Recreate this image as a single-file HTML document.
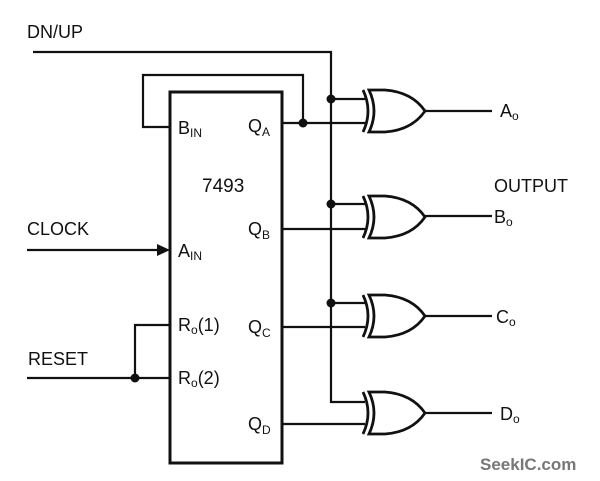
<!DOCTYPE html>
<html><head><meta charset="utf-8"><style>
html,body{margin:0;padding:0;background:#fff}
svg{display:block}
text{font-family:"Liberation Sans",sans-serif;fill:#111}
</style></head><body>
<svg width="600" height="481" viewBox="0 0 600 481" xmlns="http://www.w3.org/2000/svg">
<g stroke="#111" fill="none" stroke-width="2.2">
<rect x="170" y="92" width="112" height="371" stroke-width="3"/>
<polyline points="33,52 331,52 331,402 365,402"/>
<polyline points="170,127 143,127 143,75 303,75 303,123"/>
<line x1="282" y1="123" x2="365" y2="123"/>
<line x1="282" y1="229" x2="365" y2="229"/>
<line x1="282" y1="327" x2="365" y2="327"/>
<line x1="282" y1="424" x2="365" y2="424"/>
<line x1="331" y1="99" x2="365" y2="99"/>
<line x1="331" y1="204" x2="365" y2="204"/>
<line x1="331" y1="303" x2="365" y2="303"/>
<line x1="27" y1="250" x2="162" y2="250"/>
<line x1="27" y1="378" x2="170" y2="378"/>
<polyline points="135,378 135,325 170,325"/>
<line x1="425" y1="111" x2="492" y2="111"/>
<line x1="425" y1="216" x2="492" y2="216"/>
<line x1="425" y1="316" x2="492" y2="316"/>
<line x1="425" y1="413" x2="492" y2="413"/>
</g>
<polygon points="157,244 170,250 157,256" fill="#111"/>
<g stroke="#111" fill="none" stroke-width="2.8">
<g transform="translate(0,90)">
<path d="M363,0 Q373,21 363,42"/>
<path d="M369,0 Q379,21 369,42 L385,42 Q412,40 425,21 Q412,2 385,0 Z"/>
</g>
<g transform="translate(0,196)">
<path d="M363,0 Q373,21 363,42"/>
<path d="M369,0 Q379,21 369,42 L385,42 Q412,40 425,21 Q412,2 385,0 Z"/>
</g>
<g transform="translate(0,295)">
<path d="M363,0 Q373,21 363,42"/>
<path d="M369,0 Q379,21 369,42 L385,42 Q412,40 425,21 Q412,2 385,0 Z"/>
</g>
<g transform="translate(0,392)">
<path d="M363,0 Q373,21 363,42"/>
<path d="M369,0 Q379,21 369,42 L385,42 Q412,40 425,21 Q412,2 385,0 Z"/>
</g>
</g>
<g fill="#111">
<circle cx="331" cy="99" r="4.5"/>
<circle cx="303" cy="123" r="4.5"/>
<circle cx="331" cy="204" r="4.5"/>
<circle cx="331" cy="303" r="4.5"/>
<circle cx="135" cy="378" r="4.5"/>
</g>
<g font-size="18">
<text x="27" y="38">DN/UP</text>
<text x="27" y="235">CLOCK</text>
<text x="28" y="365">RESET</text>
<text x="494" y="192">OUTPUT</text>
<text x="202" y="192" font-size="19">7493</text>
<text x="178" y="134">B<tspan font-size="12" dy="3">IN</tspan></text>
<text x="178" y="257">A<tspan font-size="12" dy="3">IN</tspan></text>
<text x="178" y="331">R<tspan font-size="12" dy="3">o</tspan><tspan dy="-3">(1)</tspan></text>
<text x="178" y="384">R<tspan font-size="12" dy="3">o</tspan><tspan dy="-3">(2)</tspan></text>
<text x="248" y="132">Q<tspan font-size="12" dy="4">A</tspan></text>
<text x="248" y="235">Q<tspan font-size="12" dy="4">B</tspan></text>
<text x="248" y="333">Q<tspan font-size="12" dy="4">C</tspan></text>
<text x="248" y="430">Q<tspan font-size="12" dy="4">D</tspan></text>
<text x="500" y="117">A<tspan font-size="12" dy="3">o</tspan></text>
<text x="494" y="223">B<tspan font-size="12" dy="3">o</tspan></text>
<text x="496" y="323">C<tspan font-size="12" dy="3">o</tspan></text>
<text x="500" y="420">D<tspan font-size="12" dy="3">o</tspan></text>
</g>
<text x="480" y="470" font-size="17" font-weight="bold" style="fill:#777">SeekIC.com</text>
</svg>
</body></html>
